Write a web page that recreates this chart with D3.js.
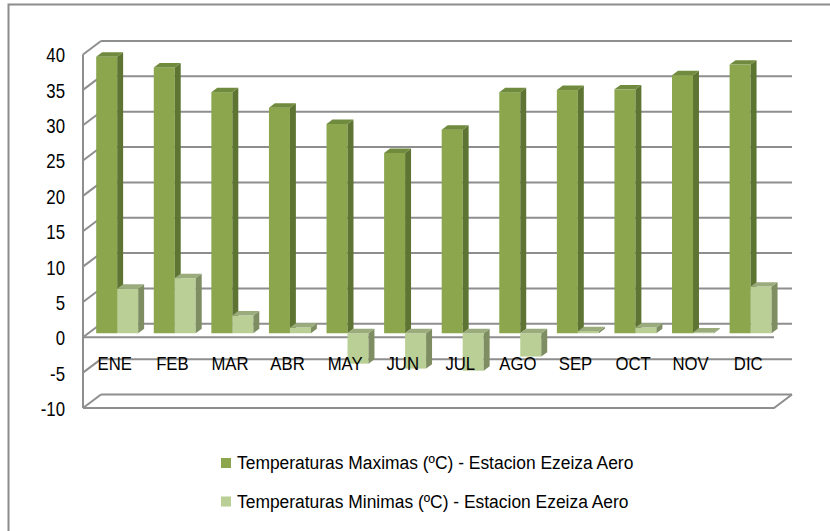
<!DOCTYPE html>
<html>
<head>
<meta charset="utf-8">
<script src="https://cdn.jsdelivr.net/npm/d3@7"></script>
<style>
  html, body { margin: 0; padding: 0; background: #fff; }
  svg { display: block; }
  text { font-family: "Liberation Sans", Arial, sans-serif; fill: #000; }
</style>
</head>
<body>
<script>
// Monthly temperature extremes, Ezeiza Aero station
const months = ["ENE", "FEB", "MAR", "ABR", "MAY", "JUN", "JUL", "AGO", "SEP", "OCT", "NOV", "DIC"];
const maxTemps = [39.1, 37.6, 34.1, 31.9, 29.6, 25.5, 28.8, 34.1, 34.4, 34.5, 36.5, 38.0];
const minTemps = [6.3, 7.8, 2.5, 0.8, -4.3, -5.0, -5.3, -3.3, 0.3, 0.8, 0.1, 6.6];
const yTicks = [-10, -5, 0, 5, 10, 15, 20, 25, 30, 35, 40];
const seriesNames = [
  "Temperaturas Maximas (ºC) - Estacion Ezeiza Aero",
  "Temperaturas Minimas (ºC) - Estacion Ezeiza Aero"
];

const W = 830, H = 531;
const svg = d3.select("body").append("svg").attr("width", W).attr("height", H);

// outer chart frame (extends past the right and bottom edges)
svg.append("rect")
  .attr("x", 8.5).attr("y", 4.5).attr("width", 900).attr("height", 600)
  .attr("fill", "none").attr("stroke", "#8c8c8c").attr("stroke-width", 2);

// front plane scales; the back wall is offset by (DX, DY)
const DX = 18, DY = -13.5;
const x = d3.scaleBand().domain(months).range([83, 774]).paddingInner(0).paddingOuter(0);
const y = d3.scaleLinear().domain([-10, 40]).range([408, 54.5]);
const series = [
  { key: "max", values: maxTemps, front: "#8ba64d", side: "#5e7432", top: "#708b3d" },
  { key: "min", values: minTemps, front: "#bacf95", side: "#7e8d62", top: "#9aac7b" }
];
const xs = d3.scaleBand().domain(series.map(s => s.key)).range([0, x.bandwidth()]).paddingInner(0).paddingOuter(0.371);

const gridColor = "#8e8e8e";
const grid = svg.append("g").attr("stroke", gridColor).attr("stroke-width", 2).attr("fill", "none");

// back wall gridlines and the matching diagonals on the side wall
yTicks.forEach(v => {
  const yf = y(v);
  grid.append("line").attr("x1", 83 + DX).attr("x2", 774 + DX).attr("y1", yf + DY).attr("y2", yf + DY);
  grid.append("line").attr("x1", 83).attr("x2", 83 + DX).attr("y1", yf).attr("y2", yf + DY);
});
// side wall front edge
grid.append("line").attr("x1", 83).attr("x2", 83).attr("y1", y(40)).attr("y2", y(-10));
// floor
grid.append("path").attr("d", d3.line()([
  [83, y(-10)], [774, y(-10)], [774 + DX, y(-10) + DY]
]));
// category axis line at zero
grid.append("line").attr("x1", 83).attr("x2", 774).attr("y1", y(0)).attr("y2", y(0));

// 3D columns
const F0 = 0.3, FD = 0.33;
const ox = F0 * DX, oy = F0 * DY, dx = FD * DX, dy = FD * DY;
const bars = svg.append("g");
months.forEach((m, i) => {
  series.forEach(s => {
    const v = s.values[i];
    const x0 = x(m) + xs(s.key) + ox;
    const x1 = x0 + xs.bandwidth();
    const yt = y(Math.max(v, 0)) + oy;
    const yb = y(Math.min(v, 0)) + oy;
    const g = bars.append("g");
    g.append("rect").attr("x", x0).attr("y", yt).attr("width", x1 - x0).attr("height", Math.max(yb - yt, 0))
      .attr("fill", s.front);
    g.append("path").attr("fill", s.side)
      .attr("d", d3.line()([[x1, yt], [x1 + dx, yt + dy], [x1 + dx, yb + dy], [x1, yb]]) + "Z");
    g.append("path").attr("fill", s.top)
      .attr("d", d3.line()([[x0, yt], [x0 + dx, yt + dy], [x1 + dx, yt + dy], [x1, yt]]) + "Z");
  });
});

// value axis labels (condensed lettering)
const yAxis = svg.append("g").attr("transform", "translate(83,1)")
  .call(d3.axisLeft(y).tickValues(yTicks).tickSize(0).tickPadding(18).tickFormat(d => String(d)));
yAxis.select(".domain").remove();
yAxis.selectAll("text")
  .attr("font-size", 20).attr("font-family", null)
  .attr("x", 0).attr("transform", "translate(-18,0) scale(0.84,1)");

// category labels
const xAxis = svg.append("g").attr("transform", `translate(0,${y(0)})`)
  .call(d3.axisBottom(x).tickSize(0).tickPadding(19));
xAxis.select(".domain").remove();
xAxis.selectAll("text")
  .attr("font-size", 19).attr("font-family", null)
  .attr("dx", 3.4).attr("transform", "scale(0.88,1)");

// legend
const legend = svg.append("g");
series.forEach((s, i) => {
  const ly = 458 + i * 38.5;
  legend.append("rect").attr("x", 221).attr("y", ly).attr("width", 10).attr("height", 10).attr("fill", s.front);
  legend.append("text").attr("transform", `translate(237,${ly + 11}) scale(0.968,1)`)
    .attr("font-size", 18).text(seriesNames[i]);
});
</script>
</body>
</html>
